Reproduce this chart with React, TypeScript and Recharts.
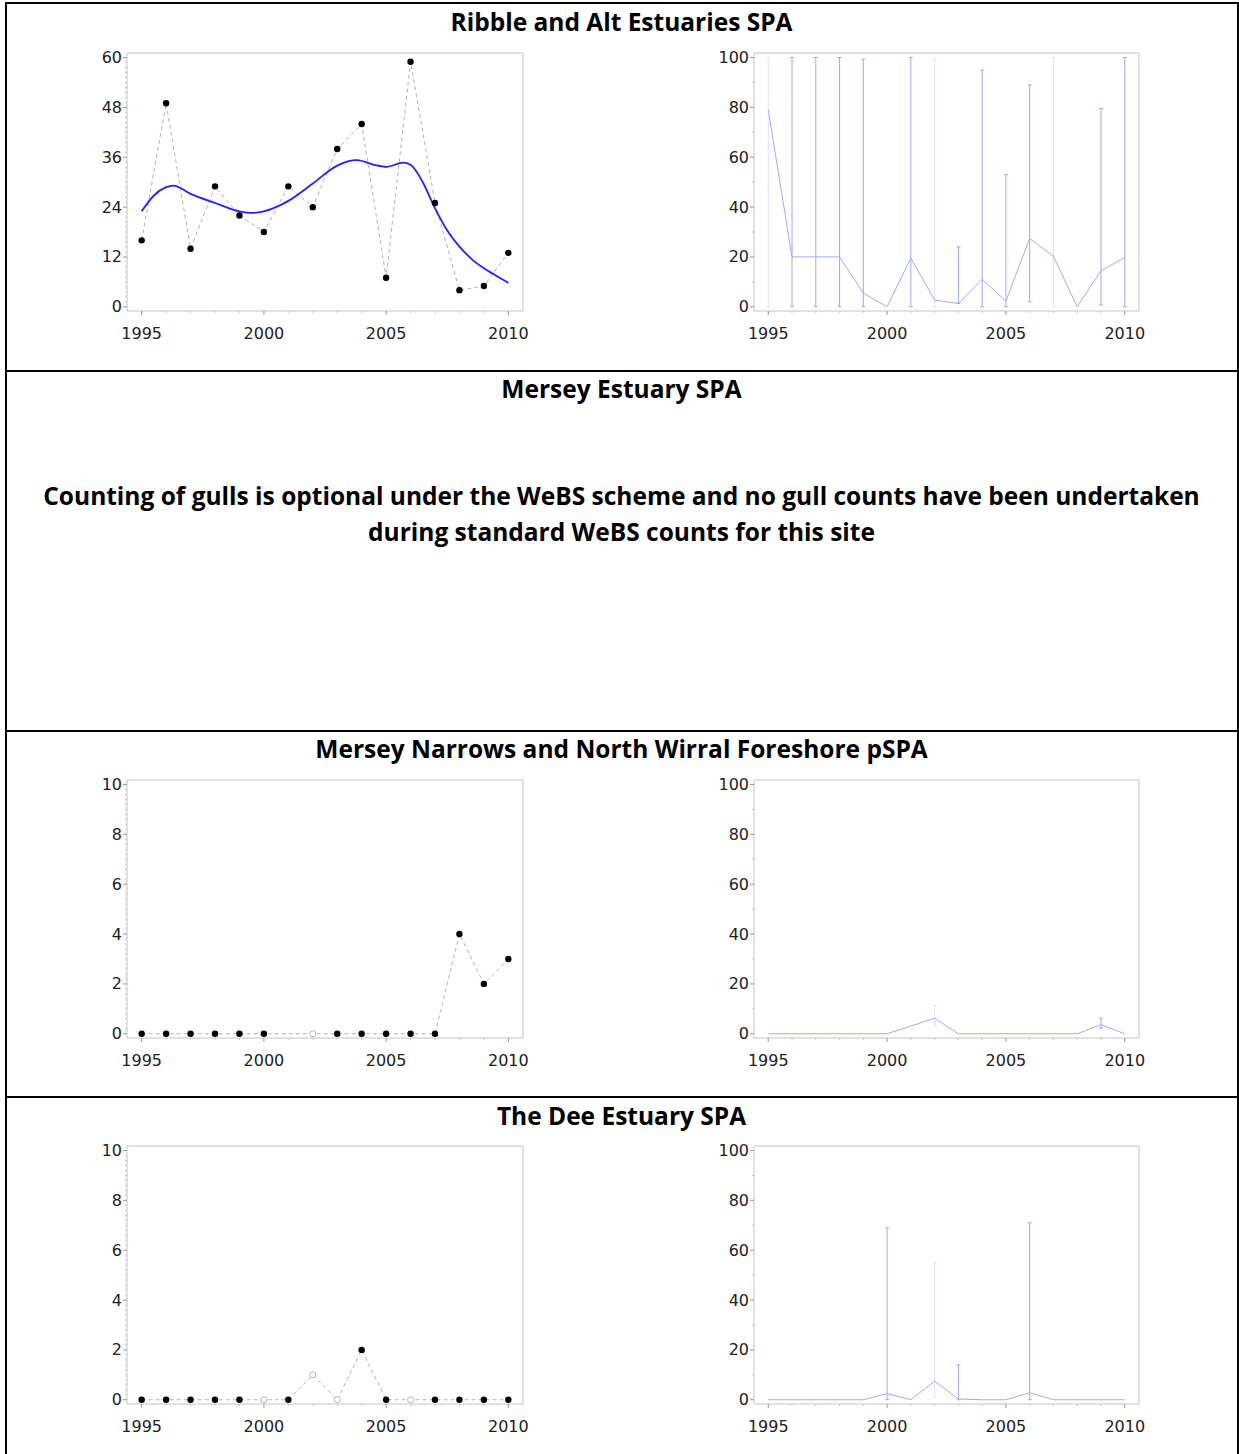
import React from "react"
import { ComposedChart, Line, XAxis, YAxis, ReferenceArea, ErrorBar } from "recharts"

// years covered by every panel
const years = [1995, 1996, 1997, 1998, 1999, 2000, 2001, 2002, 2003, 2004, 2005, 2006, 2007, 2008, 2009, 2010]

// Ribble and Alt Estuaries SPA
const ribbleCounts = [16, 49, 14, 29, 22, 18, 29, 24, 38, 44, 7, 59, 25, 4, 5, 13]
const ribbleTrendYears = [1995, 1995.5, 1996, 1996.3, 1997, 1998, 1999, 1999.5, 2000, 2001, 2002, 2003, 2003.8, 2004.5, 2005, 2005.7, 2006, 2006.5, 2007, 2007.5, 2008, 2008.5, 2009, 2009.5, 2010]
const ribbleTrend = [23, 26.8, 28.8, 29.2, 27.2, 25, 23, 22.6, 23, 25.5, 29.7, 34, 35.3, 34.2, 33.7, 34.7, 34.2, 30, 23.7, 18.4, 14.5, 11.5, 9.3, 7.5, 5.8]
const ribblePct = [79, 20, 20, 20, 5.5, 0, 19.5, 2.7, 1.3, 11, 2.3, 27.4, 20.3, 0, 14.4, 19.8]
const ribblePctLow = [0, 0, 0, 0, 0, null, 0, 0, 1.3, 0, 0, 2, 0, null, 0.7, 0]
const ribblePctHigh = [100, 100, 100, 100, 99.3, null, 100, 99.2, 24, 95, 53, 89, 100, null, 79.5, 100]
const ribbleFaint = [1995, 2002, 2007]

// Mersey Narrows and North Wirral Foreshore pSPA
const merseyCounts = [0, 0, 0, 0, 0, 0, null, 0, 0, 0, 0, 0, 0, 4, 2, 3]
const merseyHollow = [2002]
const merseyPct = [0, 0, 0, 0, 0, 0, null, 6.2, 0, 0, 0, 0, 0, 0, 3.6, 0]
const merseyPctLow = [null, null, null, null, null, null, null, 3.2, null, null, null, null, null, null, 2.3, null]
const merseyPctHigh = [null, null, null, null, null, null, null, 11.2, null, null, null, null, null, null, 6.3, null]
const merseyFaint = [2002]

// The Dee Estuary SPA
const deeCounts = [0, 0, 0, 0, 0, 0, 0, 1, 0, 2, 0, 0, 0, 0, 0, 0]
const deeHollow = [2000, 2002, 2003, 2006]
const deePct = [0, 0, 0, 0, 0, 2.5, 0, 7.5, 0.3, 0, 0, 2.8, 0, 0, 0, 0]
const deePctLow = [null, null, null, null, null, 0, null, 1, 0, null, null, 0, null, null, null, null]
const deePctHigh = [null, null, null, null, null, 69, null, 55, 14, null, null, 71, null, null, null, null]
const deeFaint = [2002]

const countTicks60 = [0, 12, 24, 36, 48, 60]
const countTicks10 = [0, 2, 4, 6, 8, 10]
const pctTicks = [0, 20, 40, 60, 80, 100]
const yearTicks = [1995, 2000, 2005, 2010]

const X_DOMAIN: [number, number] = [1994.4, 2010.6]
const PAD_L = 60
const PAD_T = 10
const PAD_R = 15
const PAD_B = 40
const PLOT_H = 258
const TICK_FONT = "'DejaVu Sans', sans-serif"

function minorTicks(majors: number[], parts: number) {
  const out: number[] = []
  const step = (majors[1] - majors[0]) / parts
  const max = majors[majors.length - 1]
  for (let i = 0; majors[0] + i * step <= max + 1e-9; i++) out.push(+(majors[0] + i * step).toFixed(4))
  return out
}

function yTick(majors: number[]) {
  return (props: any) => {
    const { y, payload } = props
    const v = payload.value
    const major = majors.some((m) => Math.abs(m - v) < 1e-6)
    return (
      <g key={`yt-${v}`}>
        <line x1={PAD_L - (major ? 4 : 2)} x2={PAD_L} y1={y} y2={y} stroke={major ? "#999" : "#c8c8c8"} />
        {major && (
          <text x={PAD_L - 5} y={y} textAnchor="end" dominantBaseline="central" fontFamily={TICK_FONT} fontSize={16} fill="#222">
            {v}
          </text>
        )}
      </g>
    )
  }
}

function xTick(props: any) {
  const { x, payload } = props
  const v = payload.value
  const major = yearTicks.includes(v)
  const yb = PAD_T + PLOT_H
  return (
    <g key={`xt-${v}`}>
      <line x1={x} x2={x} y1={yb} y2={yb + (major ? 4 : 2)} stroke={major ? "#999" : "#c8c8c8"} />
      {major && (
        <text x={x} y={yb + 22} textAnchor="middle" dominantBaseline="central" fontFamily={TICK_FONT} fontSize={16} fill="#222">
          {v}
        </text>
      )}
    </g>
  )
}

function countDot(props: any) {
  const { cx, cy, payload } = props
  const k = `d-${payload.year}`
  if (payload.count == null || cx == null || cy == null) return <g key={k} />
  if (payload.hollow) return <circle key={k} cx={cx} cy={cy} r={3} fill="#fff" stroke="#b8b8b8" strokeWidth={1} />
  return <circle key={k} cx={cx} cy={cy} r={3.2} fill="#000" />
}

function CountPanel({ left, top, counts, hollow, yMajors, yDomain, trend }: any) {
  const data = years.map((year, i) => ({ year, count: counts[i], hollow: hollow.includes(year) }))
  const w = 396
  return (
    <div style={{ position: "absolute", left: left - PAD_L, top: top - PAD_T }}>
      <ComposedChart width={PAD_L + w + PAD_R} height={PAD_T + PLOT_H + PAD_B} data={data} margin={{ top: PAD_T, right: PAD_R, bottom: 0, left: 0 }}>
        <XAxis dataKey="year" type="number" domain={X_DOMAIN} allowDataOverflow ticks={years} interval={0} tick={xTick} tickLine={false} axisLine={false} height={PAD_B} />
        <YAxis type="number" domain={yDomain} allowDataOverflow ticks={minorTicks(yMajors, 10)} interval={0} tick={yTick(yMajors)} tickLine={false} axisLine={false} width={PAD_L} />
        <ReferenceArea x1={X_DOMAIN[0]} x2={X_DOMAIN[1]} y1={yDomain[0]} y2={yDomain[1]} fill="none" stroke="#c4c4c4" ifOverflow="visible" />
        <Line dataKey="count" stroke="#b4b4b4" strokeWidth={1} strokeDasharray="4 3" dot={false} connectNulls isAnimationActive={false} />
        {trend && <Line data={trend} dataKey="trend" type="monotone" stroke="#2323ff" strokeWidth={1.8} dot={false} isAnimationActive={false} />}
        <Line dataKey="count" stroke="none" dot={countDot} activeDot={false} isAnimationActive={false} />
      </ComposedChart>
    </div>
  )
}

function PctPanel({ left, top, values, low, high, faint }: any) {
  const data = years.map((year, i) => {
    const v = values[i]
    const err = low[i] != null && v != null ? [v - low[i], high[i] - v] : null
    const isFaint = faint.includes(year)
    return { year, value: v, errDark: isFaint ? null : err, errFaint: isFaint ? err : null }
  })
  const w = 385
  const yDomain: [number, number] = [-1.7, 101.8]
  return (
    <div style={{ position: "absolute", left: left - PAD_L, top: top - PAD_T }}>
      <ComposedChart width={PAD_L + w + PAD_R} height={PAD_T + PLOT_H + PAD_B} data={data} margin={{ top: PAD_T, right: PAD_R, bottom: 0, left: 0 }}>
        <XAxis dataKey="year" type="number" domain={X_DOMAIN} allowDataOverflow ticks={years} interval={0} tick={xTick} tickLine={false} axisLine={false} height={PAD_B} />
        <YAxis type="number" domain={yDomain} allowDataOverflow ticks={minorTicks(pctTicks, 2)} interval={0} tick={yTick(pctTicks)} tickLine={false} axisLine={false} width={PAD_L} />
        <ReferenceArea x1={X_DOMAIN[0]} x2={X_DOMAIN[1]} y1={yDomain[0]} y2={yDomain[1]} fill="none" stroke="#c4c4c4" ifOverflow="visible" />
        <Line dataKey="value" stroke="#a8a8fa" strokeWidth={1} dot={false} connectNulls isAnimationActive={false}>
          <ErrorBar dataKey="errDark" width={2} stroke="#a4a4ff" strokeWidth={1} />
          <ErrorBar dataKey="errFaint" width={2} stroke="#e0e0ff" strokeWidth={1} />
        </Line>
      </ComposedChart>
    </div>
  )
}

const titleStyle: React.CSSProperties = {
  position: "absolute",
  left: 6,
  width: 1231,
  textAlign: "center",
  fontFamily: "'Open Sans', sans-serif",
  fontWeight: 700,
  fontSize: 24.5,
  lineHeight: "30px",
  color: "#000",
}

const rule = (top: number): React.CSSProperties => ({ position: "absolute", left: 5, width: 1234, top, height: 2, background: "#000" })

export default function App() {
  const trendData = ribbleTrendYears.map((year, i) => ({ year, trend: ribbleTrend[i] }))
  return (
    <div style={{ position: "absolute", left: 0, top: 0, width: 1239, height: 1454, background: "#fff", overflow: "hidden" }}>
      <div style={{ position: "absolute", left: 5, top: 2, width: 2, height: 1460, background: "#000" }} />
      <div style={{ position: "absolute", left: 1237, top: 2, width: 2, height: 1460, background: "#000" }} />
      <div style={rule(2)} />
      <div style={rule(370)} />
      <div style={rule(730)} />
      <div style={rule(1096)} />

      <div style={{ ...titleStyle, top: 7 }}>Ribble and Alt Estuaries SPA</div>
      <div style={{ ...titleStyle, top: 374 }}>Mersey Estuary SPA</div>
      <div style={{ ...titleStyle, top: 478, lineHeight: "36px" }}>
        Counting of gulls is optional under the WeBS scheme and no gull counts have been undertaken
        <br />
        during standard WeBS counts for this site
      </div>
      <div style={{ ...titleStyle, top: 734 }}>Mersey Narrows and North Wirral Foreshore pSPA</div>
      <div style={{ ...titleStyle, top: 1101 }}>The Dee Estuary SPA</div>

      <CountPanel left={127} top={53} counts={ribbleCounts} hollow={[]} yMajors={countTicks60} yDomain={[-1.0, 61.1]} trend={trendData} />
      <PctPanel left={754} top={53} values={ribblePct} low={ribblePctLow} high={ribblePctHigh} faint={ribbleFaint} />

      <CountPanel left={127} top={780} counts={merseyCounts} hollow={merseyHollow} yMajors={countTicks10} yDomain={[-0.17, 10.18]} />
      <PctPanel left={754} top={780} values={merseyPct} low={merseyPctLow} high={merseyPctHigh} faint={merseyFaint} />

      <CountPanel left={127} top={1146} counts={deeCounts} hollow={deeHollow} yMajors={countTicks10} yDomain={[-0.17, 10.18]} />
      <PctPanel left={754} top={1146} values={deePct} low={deePctLow} high={deePctHigh} faint={deeFaint} />
    </div>
  )
}
